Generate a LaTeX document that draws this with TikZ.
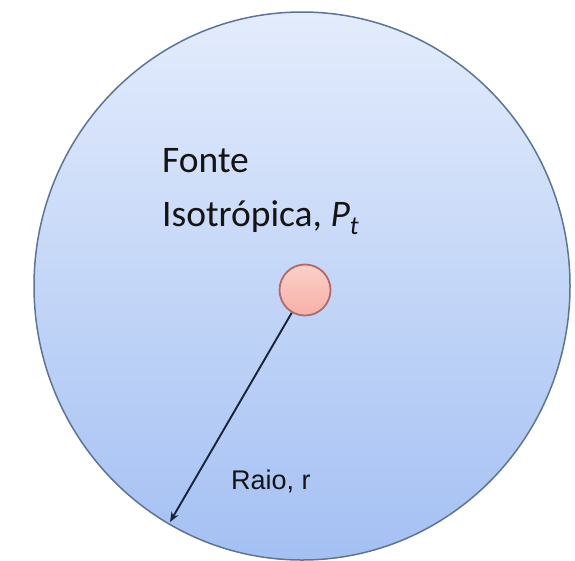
\documentclass[tikz,border=0pt]{standalone}
\usepackage{fontspec}
\setmainfont{Carlito}
\newfontfamily\arialfont{Liberation Sans}
\usetikzlibrary{shapes.geometric,arrows.meta}
\definecolor{sphtop}{HTML}{E3ECFC}
\definecolor{sphbot}{HTML}{A4C0F3}
\definecolor{sphedge}{HTML}{5E7496}
\definecolor{srctop}{HTML}{FBD0C8}
\definecolor{srcbot}{HTML}{F7B0A7}
\definecolor{srcedge}{HTML}{B06A6A}
\definecolor{arrowcol}{HTML}{18243A}
\definecolor{txtcol}{HTML}{141414}
\tikzset{
  sphere/.style={ellipse, draw=sphedge, line width=1.5pt, top color=sphtop, bottom color=sphbot, minimum width=536pt, minimum height=548pt, inner sep=0pt},
  source/.style={circle, draw=srcedge, line width=1.8pt, top color=srctop, bottom color=srcbot, minimum size=51pt, inner sep=0pt},
  radius/.style={draw=arrowcol, line width=1.9pt, -{Stealth[length=10pt,width=8pt]}},
  bigtext/.style={anchor=base west, inner sep=0pt, text=txtcol, font=\fontsize{37.5}{40}\selectfont},
  smalltext/.style={anchor=base west, inner sep=0pt, text=txtcol, font=\arialfont\fontsize{27}{30}\selectfont}
}
\begin{document}
\begin{tikzpicture}[x=1pt,y=-1pt]
\useasboundingbox (0,0) rectangle (575,560);
\node[sphere] (sph) at (302,286) {};
\node[source] (src) at (305,290) {};
\coordinate (tip) at (170,522);
\draw[radius] (src) -- (tip);
\node[bigtext] (t1) at (162,172) {Fonte};
\node[bigtext] (t2) at (162,226) {Isotrópica, \textit{P}\textsubscript{\textit{t}}};
\node[smalltext] (t3) at (231,489) {Raio, r};
\end{tikzpicture}
\end{document}
